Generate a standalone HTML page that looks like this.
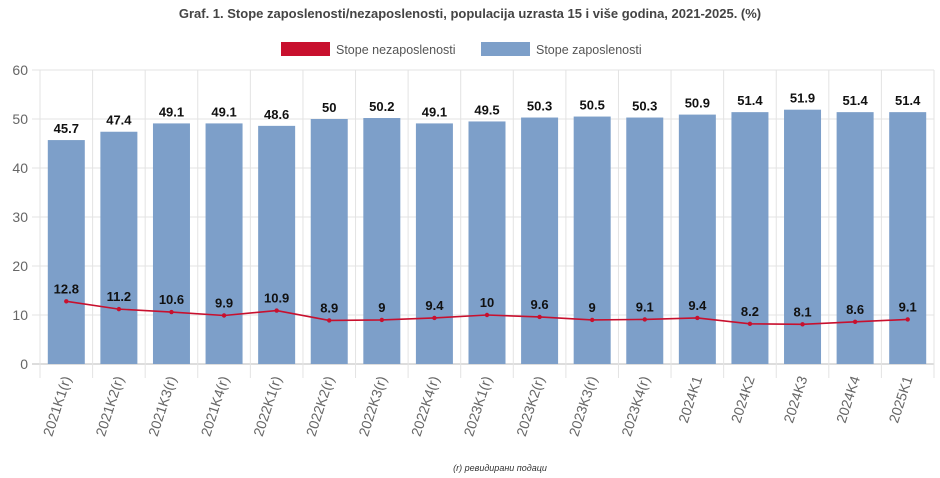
<!DOCTYPE html>
<html><head><meta charset="utf-8"><style>
body{margin:0;background:#fff;width:940px;height:473px;overflow:hidden;font-family:"Liberation Sans",sans-serif}
</style></head><body>
<svg id="c" width="940" height="473" style="font-family:'Liberation Sans',sans-serif">
<text x="470" y="18" text-anchor="middle" font-size="13" font-weight="bold" fill="#444">Graf. 1. Stope zaposlenosti/nezaposlenosti, populacija uzrasta 15 i više godina, 2021-2025. (%)</text>
<g>
<rect x="281" y="42" width="49" height="14" fill="#c8102e"/>
<text x="336" y="54" font-size="12.5" fill="#555">Stope nezaposlenosti</text>
<rect x="481" y="42" width="49" height="14" fill="#7d9fc9"/>
<text x="536" y="54" font-size="12.5" fill="#555">Stope zaposlenosti</text>
</g>
<g id="grid"></g><g id="bars"></g><g id="line"></g><g id="labels"></g>
<text x="500" y="471" text-anchor="middle" font-size="9" font-style="italic" fill="#333">(r) ревидирани подаци</text>
</svg>
<script>
const categories=["2021K1(r)","2021K2(r)","2021K3(r)","2021K4(r)","2022K1(r)","2022K2(r)","2022K3(r)","2022K4(r)","2023K1(r)","2023K2(r)","2023K3(r)","2023K4(r)","2024K1","2024K2","2024K3","2024K4","2025K1"];
const employment=[45.7,47.4,49.1,49.1,48.6,50,50.2,49.1,49.5,50.3,50.5,50.3,50.9,51.4,51.9,51.4,51.4];
const unemployment=[12.8,11.2,10.6,9.9,10.9,8.9,9,9.4,10,9.6,9,9.1,9.4,8.2,8.1,8.6,9.1];
const yTicks=[0,10,20,30,40,50,60];
const NS="http://www.w3.org/2000/svg";
const x0=40,x1=934,yBase=364,yTop=70,yMax=60;
const cw=(x1-x0)/categories.length;
const y=v=>yBase-(v/yMax)*(yBase-yTop);
const xc=i=>x0+cw*(i+0.5);
function mk(tag,attrs,parent,txt){const e=document.createElementNS(NS,tag);for(const k in attrs)e.setAttribute(k,attrs[k]);if(txt!==undefined)e.textContent=txt;document.getElementById(parent).appendChild(e);return e;}
yTicks.forEach(t=>{
 const l=mk('line',{x1:x0-8,x2:x1,y1:y(t),y2:y(t),stroke:t===0?'#bbb':'#e3e3e3'},'grid');
 
 
 const tx=mk('text',{x:x0-12,y:y(t)+5,'text-anchor':'end','font-size':14,fill:'#666'},'grid',t);
 
 
});
for(let i=0;i<=categories.length;i++){
 const gx=x0+cw*i;
 const l=mk('line',{x1:gx,x2:gx,y1:yTop,y2:yBase+14,stroke:'#e3e3e3'},'grid');
 
 
}
const bw=37;
categories.forEach((c,i)=>{
 const b=mk('rect',{x:xc(i)-bw/2,y:y(employment[i]),width:bw,height:yBase-y(employment[i]),fill:'#7d9fc9'},'bars');
 
 
 const t=mk('text',{x:xc(i),y:y(employment[i])-7,'text-anchor':'middle','font-size':13,'font-weight':'bold',fill:'#111'},'labels',employment[i]);
 
 
 const ut=mk('text',{x:xc(i),y:y(unemployment[i])-8,'text-anchor':'middle','font-size':13,'font-weight':'bold',fill:'#111'},'labels',unemployment[i]);
 
 
 const xl=mk('text',{x:0,y:0,'text-anchor':'end','font-size':14,fill:'#666',transform:`translate(${xc(i)+5},${yBase+14}) rotate(-72)`},'labels',c);
 
 
});
const pts=unemployment.map((v,i)=>xc(i)+','+y(v)).join(' ');
const pl=mk('polyline',{points:pts,fill:'none',stroke:'#c8102e','stroke-width':1.6},'line');


unemployment.forEach((v,i)=>{
 const p=mk('circle',{cx:xc(i),cy:y(v),r:2.2,fill:'#c8102e'},'line');
 
 
});
</script>
</body></html>
